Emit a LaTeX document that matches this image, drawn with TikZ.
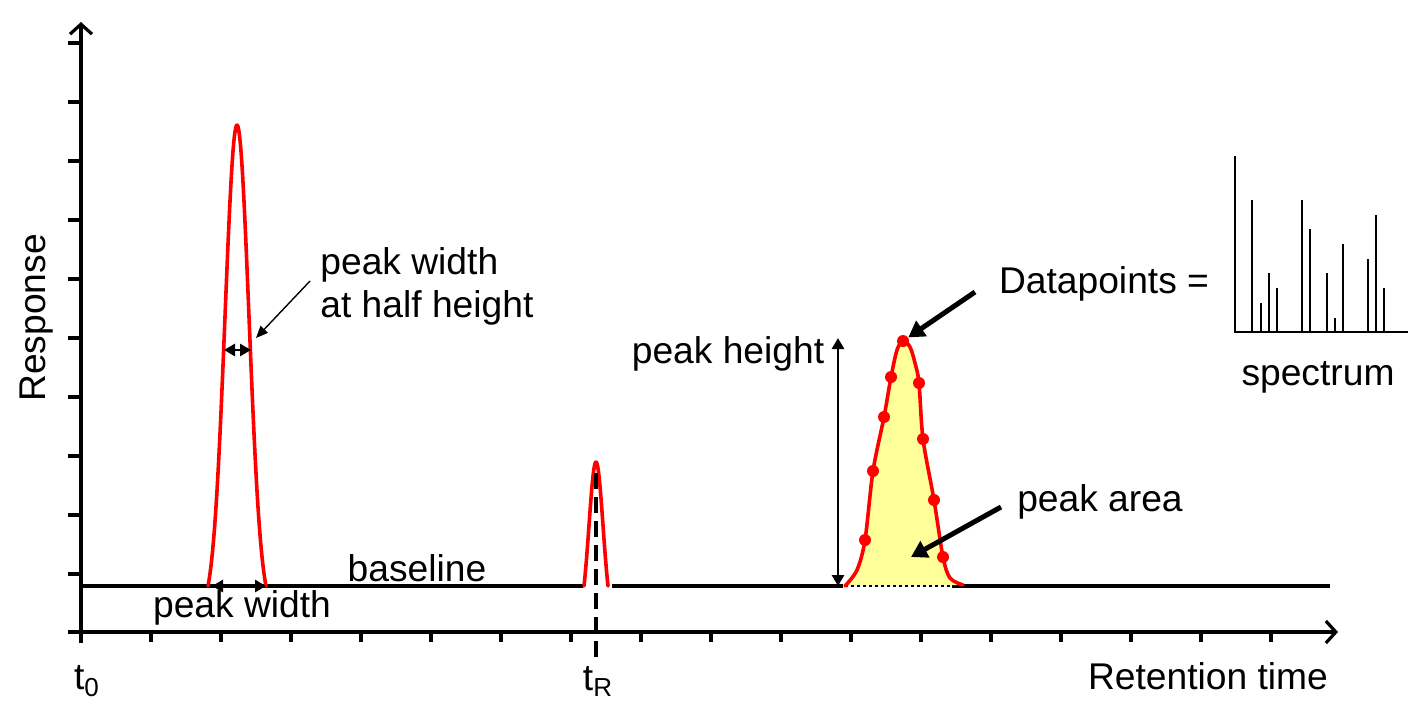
\documentclass[tikz,border=0pt]{standalone}
\usepackage{fontspec}
\setmainfont{Liberation Sans}
\usepackage{tikz}
\usetikzlibrary{arrows.meta}
\definecolor{areafill}{HTML}{FFFF99}

\begin{document}
\begin{tikzpicture}[x=0.5pt,y=-0.5pt,
  every node/.style={font=\fontsize{18.6}{21.5}\selectfont, inner sep=0pt},
  axis/.style={line width=1.6pt},
  axisarrow/.style={axis, -{Straight Barb[length=5pt,width=11pt,line width=1.6pt]}},
  peak/.style={red, line width=1.8pt, line join=round, line cap=round},
  datapoint/.style={circle, fill=red, inner sep=0pt, minimum size=6pt},
  span/.style={line width=1.4pt, {Triangle[length=5.5pt,width=6pt]}-{Triangle[length=5.5pt,width=6pt]}},
  pointer/.style={line width=0.7pt, -{Triangle[length=6pt,width=5pt]}},
  fat/.style={line width=2.5pt, -{Triangle[length=8pt,width=9pt]}}]
\useasboundingbox (0,0) rectangle (1418,720);

% axes
\coordinate (O) at (81,643);
\coordinate (Ytip) at (81,22);
\coordinate (Xstart) at (68,632);
\coordinate (Xtip) at (1338,632);
\draw [axisarrow] (O) -- (Ytip);
\draw [axisarrow] (Xstart) -- (Xtip);
\foreach \k in {1,...,17}
  \draw [axis] ({81+70*\k},632) -- ++(0,10);
\foreach \k in {0,...,9}
  \draw [axis] (68,{574-59*\k}) -- ++(13,0);

% baseline
\draw [axis] (81,586) -- (583,586);
\draw [axis] (612,586) -- (843,586);
\draw [axis] (952,586) -- (1330,586);

% peaks
\draw [peak] plot [domain=-29:29, samples=80]
  ({237+\x}, {586-461*(exp(-\x*\x/288)-0.054)/0.946});
\draw [peak] plot [domain=-12:12, samples=50]
  ({596+\x}, {586-124*(exp(-\x*\x/98)-0.23)/0.77});
\fill [areafill] plot [smooth, tension=0.5] coordinates {
  (845,586) (857,570) (865,540) (873,471) (884,417) (891,377) (897,350)
  (903,341) (910,347) (915,363) (919,383) (923,439) (934,500) (943,557)
  (950,578) (963,585)} -- cycle;
\draw [line width=1.4pt, dash pattern=on 1.5pt off 1.5pt] (845,586) -- (952,586);
\draw [peak] plot [smooth, tension=0.5] coordinates {
  (845,586) (857,570) (865,540) (873,471) (884,417) (891,377) (897,350)
  (903,341) (910,347) (915,363) (919,383) (923,439) (934,500) (943,557)
  (950,578) (963,585)};
\foreach \px/\py [count=\i] in {865/540, 873/471, 884/417, 891/377, 903/341,
    919/383, 923/439, 934/500, 943/557}
  \node [datapoint] (dp\i) at (\px,\py) {};

% retention time marker
\draw [line width=2pt, dash pattern=on 8pt off 4pt] (596,473) -- (596,658);

% spans
\coordinate (hl) at (224,350);
\coordinate (hr) at (251,350);
\draw [span] (hl) -- (hr);
\coordinate (wl) at (212,586);
\coordinate (wr) at (266,586);
\draw [span] (wl) -- (wr);
\coordinate (hb) at (838,586);
\coordinate (ht) at (838,338);
\draw [span] (hb) -- (ht);

% labels
\node (halflab) [anchor=west, align=left] at (320,286) {peak width\\at half height};
\node (widthlab) at (242,608) {peak width};
\node (baselab) at (417,568) {baseline};
\node (heightlab) at (728,354) {peak height};
\node (dplab) at (1104,284) {Datapoints =};
\node (arealab) at (1100,502) {peak area};
\node (speclab) at (1318,377) {spectrum};
\node (ylab) [rotate=90] at (37,318) {Response};
\node (xlab) at (1208,676) {Retention time};
\node (t0) at (87,681) {t\textsubscript{0}};
\node (tR) at (598,681) {t\textsubscript{R}};

% pointers
\coordinate (p1) at (310,281);
\coordinate (p2) at (256,338);
\draw [pointer] (p1) -- (p2);
\coordinate (d1) at (975,292);
\draw [fat] (d1) -- (dp5);
\coordinate (a1) at (1001,507);
\coordinate (a2) at (911,557);
\draw [fat] (a1) -- (a2);

% spectrum
\draw [line width=1pt] (1235,156) -- (1235,332) -- (1408,332);
\foreach \sx/\sy in {1252/200, 1261/303, 1269/273, 1277/288, 1302/200,
    1310/229, 1327/273, 1335/318, 1343/244, 1368/259, 1376/215, 1384/288}
  \draw [line width=1pt] (\sx,332) -- (\sx,\sy);
\end{tikzpicture}
\end{document}
